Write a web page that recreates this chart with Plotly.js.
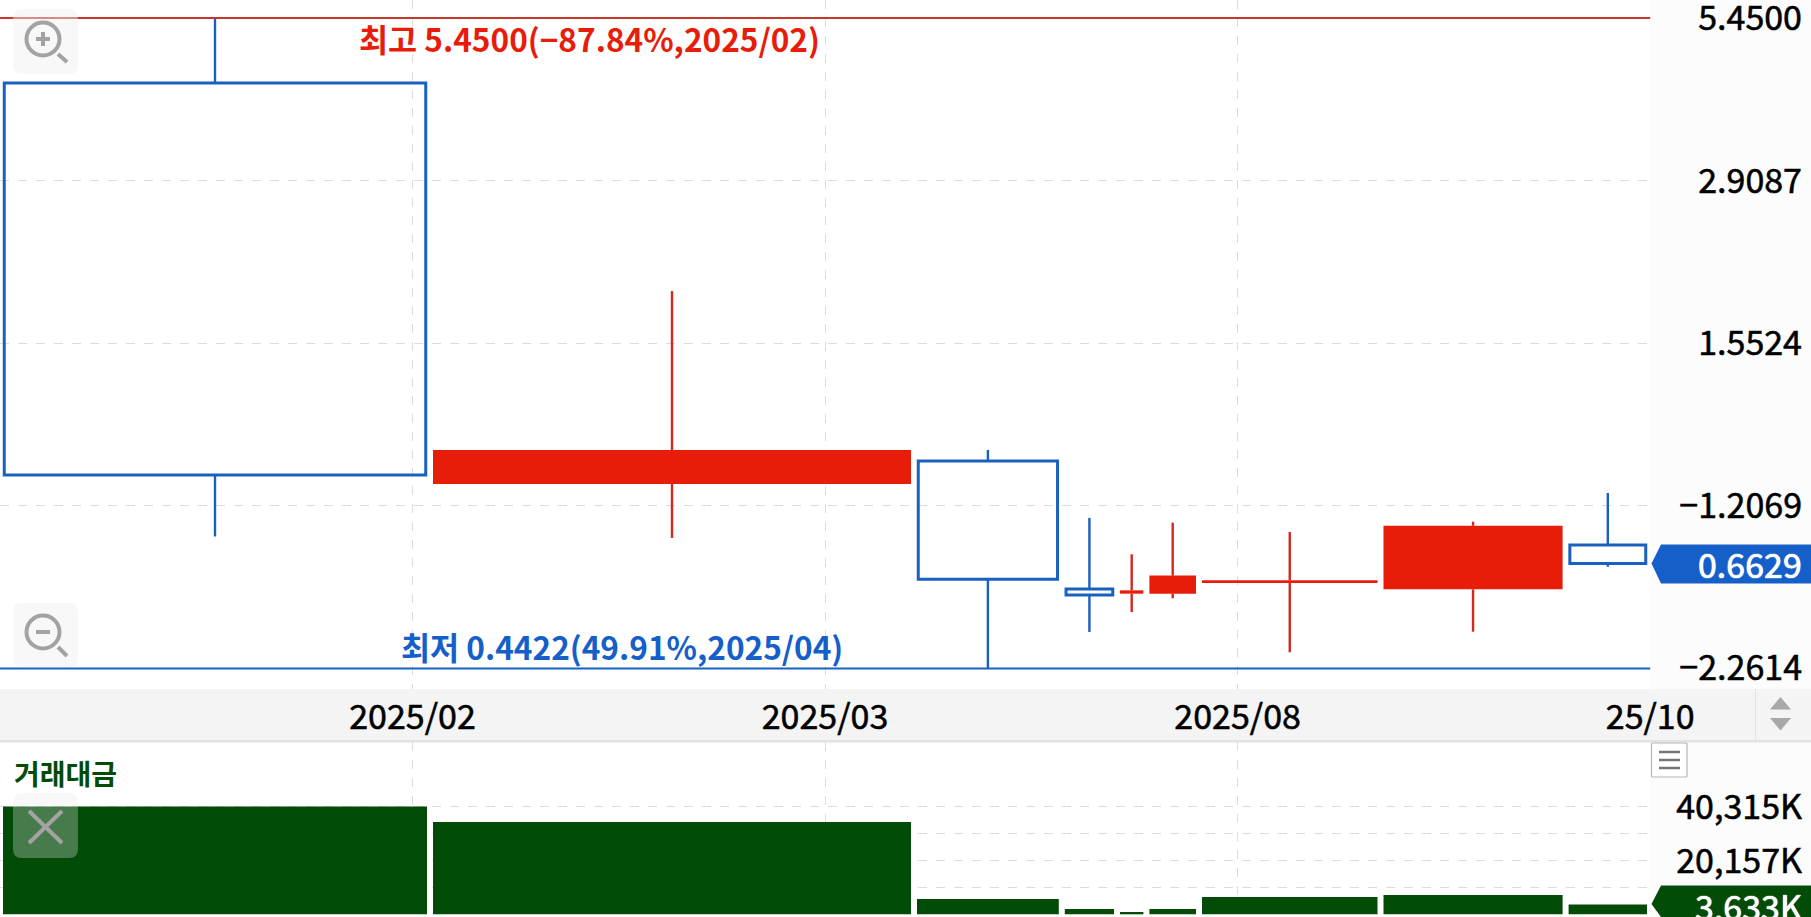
<!DOCTYPE html>
<html><head><meta charset="utf-8">
<script src="https://cdn.plot.ly/plotly-3.0.1.min.js"></script>
<style>html,body{margin:0;padding:0;background:#fff}#c{width:1811px;height:917px}
.xtick text,.ytick text,.y2tick text{stroke:#000;stroke-width:.55px}</style></head>
<body><div id="c"></div>
<script>
const W=1811,H=917,PR=1650.5;
// data
const slotWidths=[430,484,147.8,55.2,29.4,52.6,181.5,185.1,84.4];
const opens =[4.241,0.9016,0.9852,0.6011,0.5903,0.5903,0.6153,0.6002,0.7124];
const closes=[0.9337,1.028,0.6238,0.5872,0.5979,0.6329,0.6218,0.7671,0.6629];
const highs =[5.45,1.899,1.028,0.7908,0.6873,0.7765,0.7491,0.7795,0.8708];
const lows  =[0.7362,0.732,0.4422,0.5092,0.5498,0.5799,0.4708,0.5097,0.6552];
const tradeValue=[40315,34520,5722,1982,860,1982,6470,7218,3633];
const xTickVals=[412.5,825,1237.6,1650.2];
const xTickText=["2025/02","2025/03","2025/08","25/10"];
const priceTickVals=[5.45,2.9087,1.5524,0.8285,0.4422];
const priceTickText=["5.4500","2.9087","1.5524","−1.2069","−2.2614"];
const volTickVals=[40315,30236,20157,10079];
const volTickText=["40,315K","","20,157K",""];
const highVal=5.45,lowVal=0.4422,lastPrice=0.6629,lastVol=3633;

const RED="#e71c09",WICKRED="#d4281c",BLUE="#1a60c0",GREEN="#034c08",GRID="#dcdcdc";
const FONT='"Noto Sans CJK KR","Noto Sans",sans-serif';
let acc=0;const centers=slotWidths.map(w=>{const c=acc+w/2;acc+=w;return c;});
const ups=[],downs=[];opens.forEach((o,i)=>(closes[i]>=o?ups:downs).push(i));
const pick=(a,idx)=>idx.map(i=>a[i]);
function wicks(idx){const xs=[],ys=[];idx.forEach(i=>{const t=Math.max(opens[i],closes[i]),b=Math.min(opens[i],closes[i]);
  xs.push(centers[i],centers[i],null,centers[i],centers[i],null);ys.push(highs[i],t,null,b,lows[i],null);});return{x:xs,y:ys};}
const wu=wicks(ups),wd=wicks(downs);
const traces=[
 {type:'scatter',mode:'lines',x:wu.x,y:wu.y,line:{color:WICKRED,width:2.4},xaxis:'x',yaxis:'y',hoverinfo:'skip'},
 {type:'scatter',mode:'lines',x:wd.x,y:wd.y,line:{color:BLUE,width:2.4},xaxis:'x',yaxis:'y',hoverinfo:'skip'},
 {type:'bar',x:pick(centers,ups),width:pick(slotWidths,ups).map(w=>w-6),base:ups.map(i=>Math.min(opens[i],closes[i])),
  y:ups.map(i=>Math.abs(closes[i]-opens[i])),marker:{color:RED,line:{width:0}},xaxis:'x',yaxis:'y',hoverinfo:'skip'},
 {type:'bar',x:pick(centers,downs),width:pick(slotWidths,downs).map(w=>w-8.5),base:downs.map(i=>Math.min(opens[i],closes[i])),
  y:downs.map(i=>Math.abs(closes[i]-opens[i])),marker:{color:'rgba(255,255,255,0)',line:{color:BLUE,width:3}},xaxis:'x',yaxis:'y',hoverinfo:'skip'},
 {type:'scatter',mode:'lines',x:[0,PR],y:[highVal,highVal],line:{color:"#c8352b",width:1.8},xaxis:'x',yaxis:'y',hoverinfo:'skip'},
 {type:'scatter',mode:'lines',x:[0,PR],y:[lowVal,lowVal],line:{color:BLUE,width:1.8},xaxis:'x',yaxis:'y',hoverinfo:'skip'},
 {type:'bar',x:centers,width:slotWidths.map(w=>w-6),y:tradeValue,marker:{color:GREEN,line:{width:0}},xaxis:'x',yaxis:'y2',hoverinfo:'skip'}
];
const px=x=>x/W,py=y=>1-y/H;
const rr=(x0,y0,x1,y1,r)=>{const P=(x,y)=>px(x)+','+py(y);
 return `M${P(x0+r,y0)}L${P(x1-r,y0)}Q${P(x1,y0)} ${P(x1,y0+r)}L${P(x1,y1-r)}Q${P(x1,y1)} ${P(x1-r,y1)}L${P(x0+r,y1)}Q${P(x0,y1)} ${P(x0,y1-r)}L${P(x0,y0+r)}Q${P(x0,y0)} ${P(x0+r,y0)}Z`;};
const poly=pts=>'M'+pts.map(p=>px(p[0])+','+py(p[1])).join('L')+'Z';
const base={xref:'paper',yref:'paper'};
const rect=(x0,y0,x1,y1,fill,layer,extra)=>Object.assign({},base,{type:'rect',x0:px(x0),x1:px(x1),y0:py(y0),y1:py(y1),fillcolor:fill,line:{width:0},layer:layer||'below'},extra||{});
const seg=(x0,y0,x1,y1,c,w)=>Object.assign({},base,{type:'line',x0:px(x0),x1:px(x1),y0:py(y0),y1:py(y1),line:{color:c,width:w},layer:'above'});
const path=(d,fill,line,layer)=>Object.assign({},base,{type:'path',path:d,fillcolor:fill,line:line||{width:0},layer:layer||'above'});
const circ=(cx,cy,r,c,w)=>Object.assign({},base,{type:'circle',x0:px(cx-r),x1:px(cx+r),y0:py(cy+r),y1:py(cy-r),line:{color:c,width:w},fillcolor:'rgba(0,0,0,0)',layer:'above'});
const ICON="#a3a3a3";
const shapes=[
 rect(0,0,PR,689,'#ffffff'),rect(0,742,PR,917,'#ffffff'),
 rect(0,689,W,740,'#f4f4f4','below'),rect(0,740,W,742.5,'#e2e2e2','below'),
 rect(1755,689,1756,740,'#e4e4e4','below'),
 path(poly([[1780.5,697],[1791,709.5],[1770,709.5]]),'#a8a8a8'),
 path(poly([[1770,718],[1791,718],[1780.5,730.5]]),'#a8a8a8'),
 // zoom in
 path(rr(13,9,78,74,9),'rgba(240,240,240,0.45)'),
 circ(43,39,16.5,ICON,4),seg(58,54,67,62,ICON,4),seg(43,32,43,46,ICON,4),seg(36,39,50,39,ICON,4),
 // zoom out
 path(rr(13,603,78,667,9),'rgba(240,240,240,0.45)'),
 circ(43,632,16.5,ICON,4),seg(58,647,67,656,ICON,4),seg(36,632,50,632,ICON,4),
 // close
 path(rr(13,793,78,858,9),'rgba(232,232,232,0.3)'),
 seg(29,811,62,843,ICON,4),seg(62,811,29,843,ICON,4),
 // menu
 path(rr(1651.5,743,1687,777,1),'#ffffff',{color:'#b5b5b5',width:1.2}),
 seg(1659,752,1680,752,'#777',2.5),seg(1659,760,1680,760,'#777',2.5),seg(1659,768,1680,768,'#777',2.5),
 // price tags
 path(poly([[1651.5,563.5],[1661,544.5],[1811,544.5],[1811,583.5],[1661,583.5]]),'#1560c8'),
 path(poly([[1651.5,904],[1661,885.5],[1811,885.5],[1811,917],[1661,917]]),GREEN)
];
const ann=(x,y,t,font,anchor)=>({xref:'paper',yref:'paper',x:px(x),y:py(y),text:t,showarrow:false,xanchor:anchor,yanchor:'middle',font,borderpad:0});
const annFont=(c,s,w)=>({family:FONT,size:s,color:c,weight:w||700});
const whiteFont={family:FONT,size:34,color:'#ffffff',shadow:'0 0 1px #ffffff, 0 0 1px #ffffff'};
const annotations=[
 ann(358,38,"최고 "+highVal.toFixed(4)+"(−87.84%,2025/02)",annFont(RED,31.6),'left'),
 ann(400,646,"최저 "+lowVal.toFixed(4)+"(49.91%,2025/04)",annFont('#1560c8',31.6),'left'),
 ann(13,772.5,"거래대금",annFont(GREEN,28),'left'),
 ann(1803,563.5,lastPrice.toFixed(4),whiteFont,'right'),
 ann(1803,905,lastVol.toLocaleString('en-US')+"K",whiteFont,'right')
];
const gridCommon={showgrid:true,gridcolor:GRID,griddash:'dash',gridwidth:1,zeroline:false,showline:false,ticks:''};
const tickFont={family:FONT,size:34,color:'#000000'};
const layout={
 width:W,height:H,margin:{l:0,r:0,t:0,b:0,pad:0},paper_bgcolor:'#fcfcfc',plot_bgcolor:'rgba(0,0,0,0)',
 showlegend:false,barmode:'overlay',hovermode:false,
 xaxis:Object.assign({},gridCommon,{domain:[0,PR/W],range:[0,PR],anchor:'y',tickmode:'array',tickvals:xTickVals,ticktext:xTickText,tickfont:tickFont,tickangle:0,ticklabeloverflow:'allow',ticklabelstandoff:5}),
 yaxis:Object.assign({},gridCommon,{domain:[1-689/H,1],type:'log',range:[-0.3888,0.7666],anchor:'free',position:1802/W,side:'left',tickmode:'array',tickvals:priceTickVals,ticktext:priceTickText,tickfont:tickFont,ticklabeloverflow:'allow',ticklabelshift:0.5}),
 yaxis2:Object.assign({},gridCommon,{domain:[0,1-742/H],range:[-1010,64437],anchor:'free',position:1802/W,side:'left',tickmode:'array',tickvals:volTickVals,ticktext:volTickText,tickfont:tickFont,ticklabeloverflow:'allow',ticklabelshift:1}),
 shapes,annotations
};
Plotly.newPlot('c',traces,layout,{displayModeBar:false,staticPlot:true});
</script></body></html>
